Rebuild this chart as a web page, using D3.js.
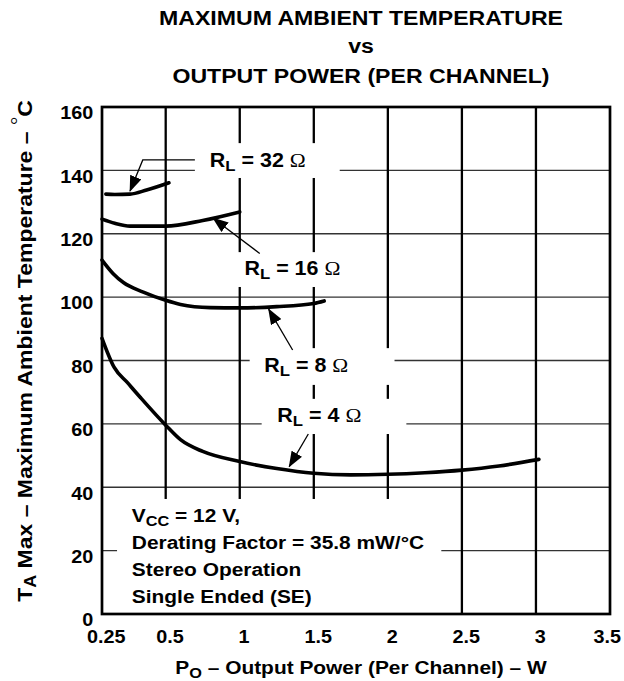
<!DOCTYPE html>
<html>
<head>
<meta charset="utf-8">
<script src="https://cdn.jsdelivr.net/npm/d3@7"></script>
<style>
  body { margin: 0; background: #fff; }
  svg { display: block; }
  text { font-family: "Liberation Sans", Arial, Helvetica, sans-serif; font-weight: bold; fill: #000; }
</style>
</head>
<body>
<script>
// Axis ticks
const xTicks = [0.25, 0.5, 1, 1.5, 2, 2.5, 3, 3.5];
const yTicks = [0, 20, 40, 60, 80, 100, 120, 140, 160];

// Output power per channel (W) and maximum ambient temperature (°C) for each load
const po32 = [0.265, 0.30, 0.36, 0.425, 0.522];
const ta32 = [132.5, 132.4, 132.5, 133.8, 136.1];

const po16 = [0.25, 0.30, 0.36, 0.50, 0.75, 1.0];
const ta16 = [124.6, 123.3, 122.4, 122.4, 124.2, 126.9];

const po8 = [0.25, 0.294, 0.334, 0.412, 0.50, 0.60, 0.80, 1.0, 1.25, 1.50, 1.57];
const ta8 = [111.7, 107.4, 104.6, 101.6, 99.0, 97.7, 96.7, 96.6, 97.0, 98.0, 98.8];

const po4 = [0.25, 0.298, 0.35, 0.40, 0.50, 0.60, 0.75, 1.0, 1.25, 1.5, 1.75, 2.0, 2.25, 2.5, 2.75, 3.02];
const ta4 = [87.0, 77.8, 73.0, 68.4, 59.6, 55.0, 51.3, 48.1, 45.9, 44.4, 43.9, 44.1, 44.6, 45.4, 46.7, 48.8];

// Load labels: text, label anchor, leader path (data units), blanked grid area behind label
const loadNames = ["32", "16", "8", "4"];
const labelPos = [[0.798, 141.2], [1.032, 107.0], [1.166, 76.5], [1.254, 60.7]];
const leaders = [
  [[0.697, 143.3], [0.41, 143.3], [0.36, 133.5]],
  [[1.135, 113.8], [0.82, 124.9]],
  [[1.357, 83.3], [1.195, 96.2]],
  [[1.463, 56.8], [1.334, 46.5]]
];
const gaps = [
  [0.697, 1.675, 137.6, 148.6],
  [0.973, 1.742, 103.2, 114.2],
  [1.067, 2.045, 72.3, 83.9],
  [1.148, 2.125, 56.8, 67.9]
];

// Operating-condition note
const noteGap = [0.309, 2.361, 0, 36.3];
const noteAnchor = [0.367, 29.1];
const noteLines = [
  [["V"], ["CC", "sub"], [" = 12 V,"]],
  [["Derating Factor = 35.8 mW/°C"]],
  [["Stereo Operation"]],
  [["Single Ended (SE)"]]
];

const titleLines = ["MAXIMUM AMBIENT TEMPERATURE", "vs", "OUTPUT POWER (PER CHANNEL)"];

const W = 624, H = 681;
const L = 102, R = 610, T = 107, B = 614;
const SX = 1.1; // glyph widening used throughout

const svg = d3.select("body").append("svg").attr("width", W).attr("height", H);

// Power axis: first interval (0.25–0.5) is drawn narrower than the rest
const x = d3.scaleLinear().domain([0.25, 0.5, 3.5]).range([L, 165.7, R]);
const y = d3.scaleLinear().domain([0, 160]).range([B, T]);

// Rich text helper: parts are [text, kind] with kind sub / sup / serif
function rich(sel, parts, size) {
  let shift = 0;
  parts.forEach(([t, kind]) => {
    const ts = sel.append("tspan").text(t);
    let target = 0;
    if (kind === "sub") { ts.attr("font-size", size * 0.78); target = size * 0.22; }
    else if (kind === "sup") { ts.attr("font-size", size * 0.9); target = -size * 0.38; ts.attr("font-weight", "normal").style("font-family", "'Liberation Serif', serif"); }
    else if (kind === "serif") { ts.attr("font-weight", "normal").style("font-family", "'Liberation Serif', 'DejaVu Serif', serif"); }
    if (target !== shift) { ts.attr("dy", target - shift); shift = target; }
  });
  return sel;
}

function textAt(px, py, parts, size, anchor, rotate, sx) {
  const t = svg.append("text")
    .attr("transform", `translate(${px},${py})` + (rotate ? " rotate(-90)" : "") + ` scale(${sx || SX},1)`)
    .attr("font-size", size)
    .attr("text-anchor", anchor || "start");
  return rich(t, parts, size);
}

// Grid
const grid = svg.append("g");
grid.selectAll("line.h").data(yTicks.filter(v => v > 0 && v < 160)).join("line")
  .attr("x1", L).attr("x2", R).attr("y1", d => y(d)).attr("y2", d => y(d))
  .attr("stroke", "#333").attr("stroke-width", 1.3);
grid.selectAll("line.v").data(xTicks.filter(v => v > 0.25 && v < 3.5)).join("line")
  .attr("y1", T).attr("y2", B).attr("x1", d => x(d)).attr("x2", d => x(d))
  .attr("stroke", "#000").attr("stroke-width", 2.3);

// Blank the grid behind labels and the note
svg.append("g").selectAll("rect").data(gaps.concat([noteGap])).join("rect")
  .attr("x", d => x(d[0])).attr("width", d => x(d[1]) - x(d[0]))
  .attr("y", d => y(d[3])).attr("height", d => y(d[2]) - y(d[3]))
  .attr("fill", "#fff");

// Frame
svg.append("rect").attr("x", L).attr("y", T).attr("width", R - L).attr("height", B - T)
  .attr("fill", "none").attr("stroke", "#000").attr("stroke-width", 2.7);

// Curves
const line = d3.line().x(d => x(d[0])).y(d => y(d[1])).curve(d3.curveMonotoneX);
const series = [[po32, ta32], [po16, ta16], [po8, ta8], [po4, ta4]];
svg.append("g").selectAll("path").data(series).join("path")
  .attr("d", ([p, t]) => line(p.map((v, i) => [v, t[i]])))
  .attr("fill", "none").attr("stroke", "#000").attr("stroke-width", 3.6)
  .attr("stroke-linecap", "round").attr("stroke-linejoin", "round");

// Arrowheads and leaders
svg.append("defs").append("marker").attr("id", "ah")
  .attr("viewBox", "0 0 16 12").attr("refX", 15).attr("refY", 6)
  .attr("markerWidth", 16).attr("markerHeight", 12)
  .attr("markerUnits", "userSpaceOnUse").attr("orient", "auto")
  .append("path").attr("d", "M0,0 L16,6 L0,12 Z").attr("fill", "#000");
const lead = d3.line().x(d => x(d[0])).y(d => y(d[1]));
svg.append("g").selectAll("path").data(leaders).join("path")
  .attr("d", d => lead(d)).attr("fill", "none").attr("stroke", "#000")
  .attr("stroke-width", 1.3).attr("marker-end", "url(#ah)");

// Load labels
loadNames.forEach((n, i) => {
  textAt(x(labelPos[i][0]), y(labelPos[i][1]), [["R"], ["L", "sub"], [" = " + n + " "], ["Ω", "serif"]], 19.5);
});

// Note
noteLines.forEach((parts, i) => {
  textAt(x(noteAnchor[0]), y(noteAnchor[1]) + i * 27.2, parts, 19);
});

// Axes (tick labels only)
const gx = svg.append("g").attr("transform", `translate(0,${B})`)
  .call(d3.axisBottom(x).tickValues(xTicks).tickFormat(d3.format("")).tickSize(0));
gx.select(".domain").remove();
gx.selectAll("text").attr("y", 29).attr("dy", 0)
  .attr("dx", (d, i) => i === xTicks.length - 1 ? -3 : 3.5)
  .attr("font-size", 18).attr("font-family", null)
  .attr("transform", `scale(${SX},1)`);

const gy = svg.append("g").attr("transform", `translate(${L},0)`)
  .call(d3.axisLeft(y).tickValues(yTicks).tickSize(0));
gy.select(".domain").remove();
gy.selectAll("text").attr("x", -8).attr("y", 6).attr("dy", "0.32em")
  .attr("font-size", 18).attr("font-family", null)
  .attr("transform", `scale(${SX},1)`);

// Axis titles
textAt(361, 674, [["P"], ["O", "sub"], [" – Output Power (Per Channel) – W"]], 19, "middle");
textAt(31.5, 351, [["T"], ["A", "sub"], [" Max – Maximum Ambient Temperature –  "], ["°", "sup"], ["C"]], 20, "middle", true, 1.15);

// Title
const tb = [25, 53.3, 83.3];
titleLines.forEach((t, i) => textAt(361, tb[i], [[t]], 21, "middle"));
</script>
</body>
</html>
